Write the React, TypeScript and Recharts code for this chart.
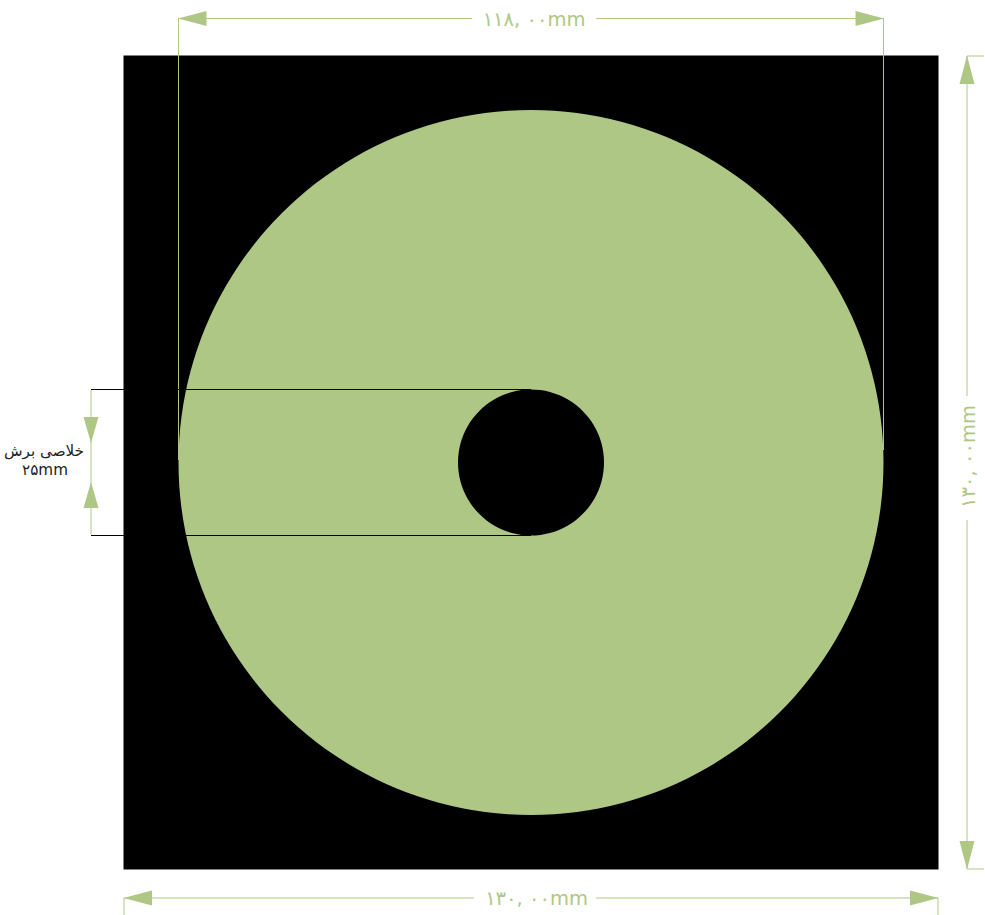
import React from "react";
import { PieChart, Pie, Cell, ScatterChart, Scatter, XAxis, YAxis, ReferenceArea, ReferenceLine } from "recharts";

const W = 985;
const H = 915;
const GREEN = "#AFC784";
const FONT = "'DejaVu Sans', 'Noto Sans', sans-serif";

// Drawing extents, in picture units
const sheetX = [123.5, 938.5];
const sheetY = [55.5, 869.5];
const discSlices = [{ name: "disc", value: 1 }];
const discCentre = [531, 462.5];
const discRadii = [73, 352.5];

const greenLines = [
  [178.5, 18.5, 472, 18.5],
  [596, 18.5, 883.5, 18.5],
  [178.5, 18, 178.5, 460],
  [883.5, 18, 883.5, 450],
  [967, 56, 967, 396],
  [967, 520, 967, 869],
  [967, 56, 984, 56],
  [967, 869, 984, 869],
  [124, 898, 474, 898],
  [596, 898, 938, 898],
  [124, 898, 124, 915],
  [938, 898, 938, 915],
  [91, 390, 91, 535],
];
const blackLines = [
  [91, 389.5, 531, 389.5],
  [91, 535.5, 531, 535.5],
];
const arrowTips = [
  { x: 178, y: 18.5, dir: "left" },
  { x: 884, y: 18.5, dir: "right" },
  { x: 967, y: 55.5, dir: "up" },
  { x: 967, y: 869.5, dir: "down" },
  { x: 123.5, y: 898, dir: "left" },
  { x: 938.5, y: 898, dir: "right" },
  { x: 91, y: 443, dir: "down", small: true },
  { x: 91, y: 482, dir: "up", small: true },
];
const dimensionLabels = [
  { x: 534, y: 19, text: "۱۱۸, ۰۰mm", rot: 0, size: 19.5, fill: GREEN },
  { x: 536.5, y: 898, text: "۱۳۰, ۰۰mm", rot: 0, size: 19.5, fill: GREEN },
  { x: 968, y: 456.5, text: "۱۳۰, ۰۰mm", rot: -90, size: 19.5, fill: GREEN },
  { x: 44, y: 451, text: "خلاصی برش", rot: 0, size: 15.2, fill: "#222222" },
  { x: 45, y: 470, text: "۲۵mm", rot: 0, size: 15.2, fill: "#222222" },
];

const ROT: Record<string, number> = { right: 0, down: 90, left: 180, up: 270 };

const Arrow = (p: any) => {
  const len = p.payload.small ? 26 : 28.5;
  const half = 7.5;
  return (
    <polygon
      points={`0,0 ${-len},${-half} ${-len},${half}`}
      fill={GREEN}
      transform={`translate(${p.cx},${p.cy}) rotate(${ROT[p.payload.dir]})`}
    />
  );
};

const Label = (p: any) => {
  const d = p.payload;
  return (
    <text
      transform={`translate(${p.cx},${p.cy}) rotate(${d.rot})`}
      textAnchor="middle"
      dominantBaseline="central"
      fontFamily={FONT}
      fontSize={d.size}
      fill={d.fill}
    >
      {d.text}
    </text>
  );
};

const axes = [
  <XAxis key="x" type="number" dataKey="x" domain={[0, W]} hide allowDataOverflow />,
  <YAxis key="y" type="number" dataKey="y" domain={[0, H]} reversed hide allowDataOverflow />,
];
const margin = { top: 0, right: 0, bottom: 0, left: 0 };
const layer: React.CSSProperties = { position: "absolute", left: 0, top: 0 };

const seg = (l: number[], color: string, i: number) => (
  <ReferenceLine
    key={color + i}
    segment={[{ x: l[0], y: l[1] }, { x: l[2], y: l[3] }]}
    stroke={color}
    strokeWidth={1}
    ifOverflow="visible"
  />
);

export default function App() {
  return (
    <div style={{ position: "absolute", left: 0, top: 0, width: W, height: H, overflow: "hidden" }}>
      <div style={layer}>
        <ScatterChart width={W} height={H} margin={margin}>
          {axes}
          <Scatter data={[]} isAnimationActive={false} />
          <ReferenceArea
            x1={sheetX[0]}
            x2={sheetX[1]}
            y1={sheetY[0]}
            y2={sheetY[1]}
            fill="#000000"
            fillOpacity={1}
            stroke="none"
            ifOverflow="visible"
          />
        </ScatterChart>
      </div>
      <div style={layer}>
        <PieChart width={W} height={H} margin={margin}>
          <Pie
            data={discSlices}
            dataKey="value"
            cx={discCentre[0]}
            cy={discCentre[1]}
            innerRadius={discRadii[0]}
            outerRadius={discRadii[1]}
            startAngle={90}
            endAngle={-270}
            stroke="none"
            paddingAngle={0}
            isAnimationActive={false}
          >
            <Cell fill={GREEN} />
          </Pie>
        </PieChart>
      </div>
      <div style={layer}>
        <ScatterChart width={W} height={H} margin={margin}>
          {axes}
          {greenLines.map((l, i) => seg(l, GREEN, i))}
          {blackLines.map((l, i) => seg(l, "#000000", i))}
          <Scatter data={arrowTips} shape={Arrow} isAnimationActive={false} />
          <Scatter data={dimensionLabels} shape={Label} isAnimationActive={false} />
        </ScatterChart>
      </div>
    </div>
  );
}
